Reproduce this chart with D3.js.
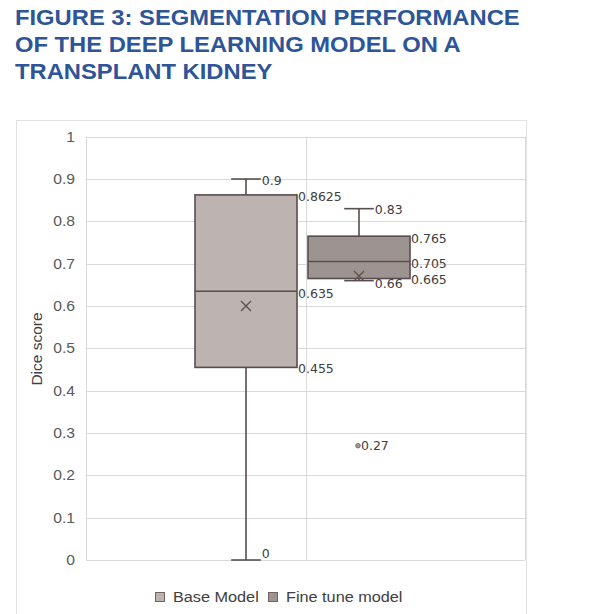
<!DOCTYPE html>
<html><head><meta charset="utf-8">
<script src="https://cdn.jsdelivr.net/npm/d3@7"></script>
<style>
html,body{margin:0;padding:0;background:#fff;}
svg{display:block;}
</style></head>
<body>
<script>
// ---- data ----
const titleLines = ["FIGURE 3: SEGMENTATION PERFORMANCE", "OF THE DEEP LEARNING MODEL ON A", "TRANSPLANT KIDNEY"];
const seriesNames = ["Base Model", "Fine tune model"];
const whiskerLow = [0, 0.66];
const q1 = [0.455, 0.665];
const median = [0.635, 0.705];
const q3 = [0.8625, 0.765];
const whiskerHigh = [0.9, 0.83];
const means = [0.6, 0.671];
const outliers = [[], [0.27]];
const yTicks = [0, 0.1, 0.2, 0.3, 0.4, 0.5, 0.6, 0.7, 0.8, 0.9, 1];
const yTickLabels = ["0", "0.1", "0.2", "0.3", "0.4", "0.5", "0.6", "0.7", "0.8", "0.9", "1"];
const yAxisTitle = "Dice score";
const fills = ["#bdb4b2", "#9d9391"];

// ---- drawing ----
const W = 606, H = 614;
const svg = d3.select("body").append("svg").attr("width", W).attr("height", H);
const sans = "Liberation Sans, Arial, sans-serif";
// the source image is slightly stretched horizontally
const stretch = (sel, f) => sel.each(function () {
  const w = this.getComputedTextLength();
  d3.select(this).attr("textLength", w * f).attr("lengthAdjust", "spacingAndGlyphs");
});

const titleColor = "#2e5597";
svg.append("g").selectAll("text").data(titleLines).join("text")
  .attr("x", 15).attr("y", (d, i) => 25 + i * 27)
  .attr("font-family", sans)
  .attr("font-weight", "bold").attr("font-size", 21.5)
  .attr("fill", titleColor).text(d => d)
  .call(stretch, 1.105);

// chart area border
svg.append("rect").attr("x", 16.5).attr("y", 120.5).attr("width", 510).attr("height", 510)
  .attr("fill", "none").attr("stroke", "#e2e2e2").attr("stroke-width", 1);

const plotL = 86, plotR = 525, plotT = 136.7, plotB = 560;
const y = d3.scaleLinear().domain([0, 1]).range([plotB, plotT]);
const x = d3.scaleBand().domain(seriesNames).range([82, 523]).paddingInner(0.0973).paddingOuter(1);
const cat = d3.scaleBand().domain(["c"]).range([plotL, plotR]);

const grid = svg.append("g");
grid.selectAll("line.h").data(yTicks).join("line").attr("class", "h")
  .attr("x1", plotL).attr("x2", plotR)
  .attr("y1", d => Math.round(y(d)) + 0.5).attr("y2", d => Math.round(y(d)) + 0.5)
  .attr("stroke", "#d9d9d9").attr("stroke-width", 1);
const vx = [cat.range()[0], cat("c") + cat.bandwidth() / 2, cat.range()[1]];
grid.selectAll("line.v").data(vx).join("line").attr("class", "v")
  .attr("x1", d => Math.round(d) + 0.5).attr("x2", d => Math.round(d) + 0.5)
  .attr("y1", plotT).attr("y2", plotB)
  .attr("stroke", "#d9d9d9").attr("stroke-width", 1);

// y axis
const yAxis = d3.axisLeft(y).tickValues(yTicks).tickFormat((d, i) => yTickLabels[i]).tickSize(0).tickPadding(11);
const ya = svg.append("g").attr("transform", `translate(${plotL},0)`).call(yAxis);
ya.select(".domain").remove();
ya.selectAll("text").attr("font-family", sans)
  .attr("font-size", 14).attr("fill", "#595959").call(stretch, 1.12);

svg.append("text").attr("transform", `translate(42,${349}) rotate(-90)`)
  .attr("text-anchor", "middle").attr("font-family", sans)
  .attr("font-size", 15.5).attr("fill", "#404040").text(yAxisTitle);

const stroke = "#574e4d";
const lblFont = "DejaVu Sans, sans-serif";
const lblColor = "#404040";
const boxes = svg.append("g");

seriesNames.forEach((name, i) => {
  const x0 = x(name), bw = x.bandwidth(), cx = x0 + bw / 2;
  const capW = bw * 0.29;
  const g = boxes.append("g");
  g.append("line").attr("x1", cx).attr("x2", cx).attr("y1", y(whiskerHigh[i])).attr("y2", y(q3[i]))
    .attr("stroke", stroke).attr("stroke-width", 1.6);
  g.append("line").attr("x1", cx).attr("x2", cx).attr("y1", y(q1[i])).attr("y2", y(whiskerLow[i]))
    .attr("stroke", stroke).attr("stroke-width", 1.6);
  [whiskerHigh[i], whiskerLow[i]].forEach(v => {
    g.append("line").attr("x1", cx - capW / 2).attr("x2", cx + capW / 2)
      .attr("y1", y(v)).attr("y2", y(v)).attr("stroke", stroke).attr("stroke-width", 1.6);
  });
  g.append("rect").attr("x", x0).attr("y", y(q3[i])).attr("width", bw).attr("height", y(q1[i]) - y(q3[i]))
    .attr("fill", fills[i]).attr("stroke", stroke).attr("stroke-width", 1.6);
  g.append("line").attr("x1", x0).attr("x2", x0 + bw).attr("y1", y(median[i])).attr("y2", y(median[i]))
    .attr("stroke", stroke).attr("stroke-width", 1.6);
  const m = 5;
  const my = y(means[i]);
  g.append("path").attr("d", `M${cx - m},${my - m}L${cx + m},${my + m}M${cx - m},${my + m}L${cx + m},${my - m}`)
    .attr("stroke", "#5a5150").attr("stroke-width", 1.4).attr("fill", "none");
  outliers[i].forEach(v => {
    g.append("circle").attr("cx", cx - 1).attr("cy", y(v)).attr("r", 2.3)
      .attr("fill", "#a09694").attr("stroke", "#6b6261").attr("stroke-width", 0.8);
    g.append("text").attr("x", cx + 2).attr("y", y(v)).attr("dy", "0.36em")
      .attr("font-family", lblFont).attr("font-size", 12.5).attr("fill", lblColor).text(String(v));
  });
  const lab = (val, lx, dy) => g.append("text").attr("x", lx).attr("y", y(val) + dy).attr("dy", "0.36em")
    .attr("font-family", lblFont).attr("font-size", 12.5).attr("fill", lblColor).text(String(val));
  lab(whiskerHigh[i], cx + capW / 2 + 1, 1);
  lab(q3[i], x0 + bw + 1, 2);
  lab(median[i], x0 + bw + 1, 2);
  lab(q1[i], x0 + bw + 1, 1);
  lab(whiskerLow[i], cx + capW / 2 + 1, whiskerLow[i] === 0 ? -6.5 : 3);
});

// legend
const leg = svg.append("g");
const legX = [155, 268];
seriesNames.forEach((name, i) => {
  leg.append("rect").attr("x", legX[i] + 0.5).attr("y", 592.5).attr("width", 9).attr("height", 9)
    .attr("fill", fills[i]).attr("stroke", "#6e6564").attr("stroke-width", 1);
  leg.append("text").attr("x", legX[i] + 18).attr("y", 597).attr("dy", "0.36em")
    .attr("font-family", sans).attr("font-size", 14)
    .attr("fill", "#404040").text(name).call(stretch, 1.16);
});
</script>
</body></html>
